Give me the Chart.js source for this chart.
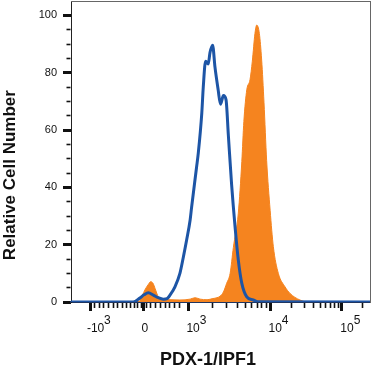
<!DOCTYPE html>
<html>
<head>
<meta charset="utf-8">
<script src="https://cdn.jsdelivr.net/npm/chart.js@4.4.1/dist/chart.umd.min.js"></script>
<style>
body { margin: 0; background: #fff; }
#wrap { width: 372px; height: 373px; }
</style>
</head>
<body>
<div id="wrap"><canvas id="histChart" width="372" height="373"></canvas></div>
<script>
// x values are display channels (0-1024) of the biexponential PDX-1 axis
var isotypeX = [0, 213, 236, 250, 265, 282, 299, 316, 329, 339, 356, 373, 385, 396, 408, 413, 430, 436, 448, 453, 461, 470, 476, 485, 493, 504, 512, 522, 531, 539, 550, 562, 573, 585, 602, 624, 640, 1024];
var isotypeY = [0, 0, 1.4, 2.5, 3.2, 2.4, 1.5, 1.0, 1.2, 2.4, 5.3, 10, 15.8, 21.6, 28.6, 33, 47, 52, 66, 75, 84, 83, 87, 89.6, 82, 74, 69, 72, 70.5, 58, 41, 26, 14.6, 6.5, 1.8, 0.7, 0.1, 0];

var pdxX = [0, 229, 236, 253, 264, 273, 281, 288, 299, 316, 339, 373, 408, 425, 442, 466, 486, 500, 510, 522, 533, 545, 556, 573, 585, 592, 602, 613, 621, 630, 636, 645, 653, 661, 670, 682, 693, 710, 733, 750, 784, 812, 1024];
var pdxY = [0, 0, 0.5, 4.2, 6, 7.1, 6.5, 4.7, 1.8, 0.9, 0.8, 0.7, 1.0, 1.5, 1.0, 0.8, 1.2, 1.5, 2, 3.5, 6.5, 10, 19, 31, 49, 63, 74, 77.5, 84, 93.7, 96.6, 93.7, 84.4, 69.5, 49.4, 32, 19.3, 10, 5.3, 3, 0.7, 0, 0];

// axis ticks (channels) and their labels: [superscript line, base line]
var majorTicks = [67, 247, 401, 682, 928];
var majorLabels = [
  ['\u00A0\u00A0\u00A0\u00A0\u00A0\u00A0\u00A03', '-10'],
  ['', '0\u00A0\u00A0'],
  ['\u00A0\u00A0\u00A0\u00A0\u00A0\u00A03', '10'],
  ['\u00A0\u00A0\u00A0\u00A0\u00A0\u00A04', '10'],
  ['\u00A0\u00A0\u00A0\u00A0\u00A0\u00A05', '10']
];
var minorTicks = [82, 98, 113, 128, 144, 159, 175, 190, 205, 219, 229, 240, 260, 271,
  288, 305, 322, 339, 356, 370, 485, 534, 570, 597, 619, 638, 654, 669,
  756, 799, 830, 854, 873, 890, 904, 917, 1000];
var yTicks = [0, 5, 10, 15, 20, 25, 30, 35, 40, 45, 50, 55, 60, 65, 70, 75, 80, 85, 90, 95, 100];
var yLabelStep = 20;

function toPoints(xs, ys) {
  var pts = [];
  for (var i = 0; i < xs.length; i++) {
    pts.push({x: xs[i], y: ys[i]});
  }
  return pts;
}

function isMajorX(c) {
  return c.tick && majorTicks.indexOf(c.tick.value) !== -1;
}
function isMajorY(c) {
  return c.tick && c.tick.value % yLabelStep === 0;
}

var ctx = document.getElementById('histChart').getContext('2d');
var histChart = new Chart(ctx, {
  type: 'line',
  data: {
    datasets: [{
      label: 'Isotype',
      data: toPoints(isotypeX, isotypeY),
      borderColor: '#1d55a6',
      borderWidth: 3,
      pointRadius: 0,
      fill: false,
      cubicInterpolationMode: 'monotone'
    }, {
      label: 'PDX-1/IPF1',
      data: toPoints(pdxX, pdxY),
      borderColor: '#f5841f',
      backgroundColor: '#f5841f',
      borderWidth: 1,
      pointRadius: 0,
      fill: 'origin',
      cubicInterpolationMode: 'monotone'
    }]
  },
  options: {
    responsive: false,
    animation: false,
    layout: { padding: { top: 1, right: 2, left: 0, bottom: 0 } },
    plugins: {
      legend: { display: false },
      tooltip: { enabled: false }
    },
    scales: {
      x: {
        type: 'linear',
        min: 0,
        max: 1024,
        afterBuildTicks: function(scale) {
          var all = majorTicks.concat(minorTicks).sort(function(a, b) { return a - b; });
          scale.ticks = all.map(function(v) { return {value: v}; });
        },
        afterFit: function(scale) {
          scale.height = 71;
          scale.paddingLeft = 0;
          scale.paddingRight = 0;
        },
        ticks: {
          autoSkip: false,
          maxRotation: 0,
          padding: 6,
          labelOffset: 5,
          color: '#111',
          font: { family: 'Liberation Sans, Arial, sans-serif', size: 12, lineHeight: 0.625 },
          callback: function(value) {
            var i = majorTicks.indexOf(value);
            return i === -1 ? '' : majorLabels[i];
          }
        },
        grid: {
          drawOnChartArea: false,
          tickLength: 9,
          tickColor: '#111',
          tickWidth: function(c) { return isMajorX(c) ? 3 : 1.6; },
          tickBorderDash: function(c) { return isMajorX(c) ? [] : [5, 20]; }
        },
        border: { display: true, color: '#1f3560', width: 2 },
        title: {
          display: true,
          text: 'PDX-1/IPF1\u00A0\u00A0\u00A0\u00A0\u00A0',
          color: '#111',
          font: { family: 'Liberation Sans, Arial, sans-serif', size: 18, weight: 'bold' },
          padding: { top: 18, bottom: 2 }
        }
      },
      y: {
        type: 'linear',
        min: 0,
        max: 105,
        afterBuildTicks: function(scale) {
          scale.ticks = yTicks.map(function(v) { return {value: v}; });
        },
        afterFit: function(scale) {
          scale.width = 71;
          scale.paddingTop = 0;
          scale.paddingBottom = 0;
        },
        ticks: {
          autoSkip: false,
          padding: 6,
          color: '#111',
          font: { family: 'Liberation Sans, Arial, sans-serif', size: 11 },
          callback: function(value) {
            return value % yLabelStep === 0 ? String(value) : '';
          }
        },
        grid: {
          drawOnChartArea: false,
          tickLength: 8,
          tickColor: '#111',
          tickWidth: function(c) { return isMajorY(c) ? 3 : 1.6; },
          tickBorderDash: function(c) { return isMajorY(c) ? [] : [4, 3.5]; },
          tickBorderDashOffset: function(c) { return isMajorY(c) ? 0 : 4; }
        },
        border: { display: true, color: '#222', width: 1 },
        title: {
          display: true,
          text: 'Relative Cell Number' + '\u00A0\u00A0\u00A0\u00A0\u00A0\u00A0\u00A0\u00A0\u00A0\u00A0',
          color: '#111',
          font: { family: 'Liberation Sans, Arial, sans-serif', size: 17, weight: 'bold' },
          padding: { top: 0, bottom: 18 }
        }
      },
      xTop: {
        type: 'linear',
        position: 'top',
        min: 0,
        max: 1024,
        afterFit: function(scale) {
          scale.height = 0;
        },
        ticks: { display: false },
        grid: { display: false, drawTicks: false },
        border: { display: true, color: '#666', width: 1 }
      },
      yRight: {
        type: 'linear',
        position: 'right',
        min: 0,
        max: 105,
        afterFit: function(scale) {
          scale.width = 0;
          scale.paddingTop = 0;
          scale.paddingBottom = 0;
        },
        ticks: { display: false },
        grid: { display: false, drawTicks: false },
        border: { display: true, color: '#666', width: 1 }
      }
    }
  }
});
</script>
</body>
</html>
